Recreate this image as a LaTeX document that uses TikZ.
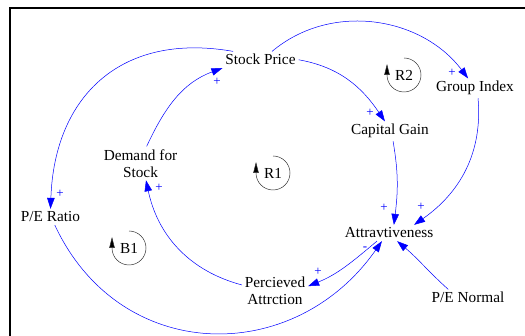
\documentclass[tikz,border=0pt]{standalone}
\usepackage{fontspec}
\setmainfont{Liberation Serif}
\usetikzlibrary{arrows.meta}
\begin{document}
\begin{tikzpicture}[x=1pt,y=1pt,
            var/.style={inner sep=3pt,outer sep=0pt,align=center,font=\fontsize{15.3}{17}\selectfont},
            link/.style={draw=blue,line width=0.5pt,-{Triangle[length=11pt,width=7.5pt]}},
            pol/.style={text=blue,inner sep=0pt,font=\fontsize{13}{13}\selectfont},
            loopmark/.style={draw=black!80,line width=0.5pt,-{Triangle[length=11pt,width=5.5pt,fill=black]}},
            looplbl/.style={inner sep=0pt,font=\fontsize{15.3}{17}\selectfont}]
            \useasboundingbox (0,0) rectangle (525,-336);
            \draw[line width=2.3pt] (10,-336) -- (10,-7.8) -- (525,-7.8);

            \node[var,anchor=base] (sp) at (260.5,-65) {Stock Price};
            \node[var,anchor=base] (gi) at (475,-92) {Group Index};
            \node[var,anchor=base] (cg) at (390,-135) {Capital Gain};
            \node[var] (ds) at (140.5,-163.3) {Demand for\\Stock};
            \node[var,anchor=base] (pe) at (50.5,-222) {P/E Ratio};
            \node[var,anchor=base] (at) at (389,-238) {Attravtiveness};
            \node[var] (pa) at (275,-290.8) {Percieved\\Attrction};
            \node[var,anchor=base] (pn) at (468,-303) {P/E Normal};

            \draw[link] (ds.70) to[out=65,in=200] (sp.south west);
            \draw[link] (sp.163) to[out=170,in=88,looseness=1.2] (pe.north);
            \draw[link] (sp.36) to[out=40,in=127] (gi.125);
            \draw[link] (sp.east) to[out=-10,in=124] (cg.117);
            \draw[link] (cg.-73) to[out=-80,in=83] (at.59);
            \draw[link] (gi.-73) to[out=-85,in=35] (at.18);
            \draw[link] (pn.157) to[out=138,in=-40] (at.-45);
            \draw[link] (at.-146) to[out=220,in=22] (pa.8);
            \draw[link] (pa.170) to[out=165,in=-78] (ds.-72);
            \draw[link] (pe.-62) to[out=-65,in=-125,looseness=1.2] (at.-131);

            \node[pol] (p1) at (217,-82) {+};
            \node[pol] (p2) at (60,-194) {+};
            \node[pol] (p3) at (452,-73) {+};
            \node[pol] (p4) at (370,-113) {+};
            \node[pol] (p5) at (384,-208) {+};
            \node[pol] (p6) at (421,-207) {+};
            \node[pol] (p7) at (318,-272) {+};
            \node[pol] (p8) at (159,-188) {+};
            \node[pol] (p9) at (365,-249) {-};

            \node[looplbl] (r2) at (404,-75) {R2};
            \node[looplbl] (r1) at (273,-173) {R1};
            \node[looplbl] (b1) at (129,-248) {B1};
            \draw[loopmark] ([shift={(90:17pt)}]r2.center) arc[start angle=90,end angle=-180,radius=17pt] -- ++(0,11);
            \draw[loopmark] ([shift={(90:17pt)}]r1.center) arc[start angle=90,end angle=-180,radius=17pt] -- ++(0,11);
            \draw[loopmark] ([shift={(90:17pt)}]b1.center) arc[start angle=90,end angle=-180,radius=17pt] -- ++(0,11);
         \end{tikzpicture}
\end{document}
